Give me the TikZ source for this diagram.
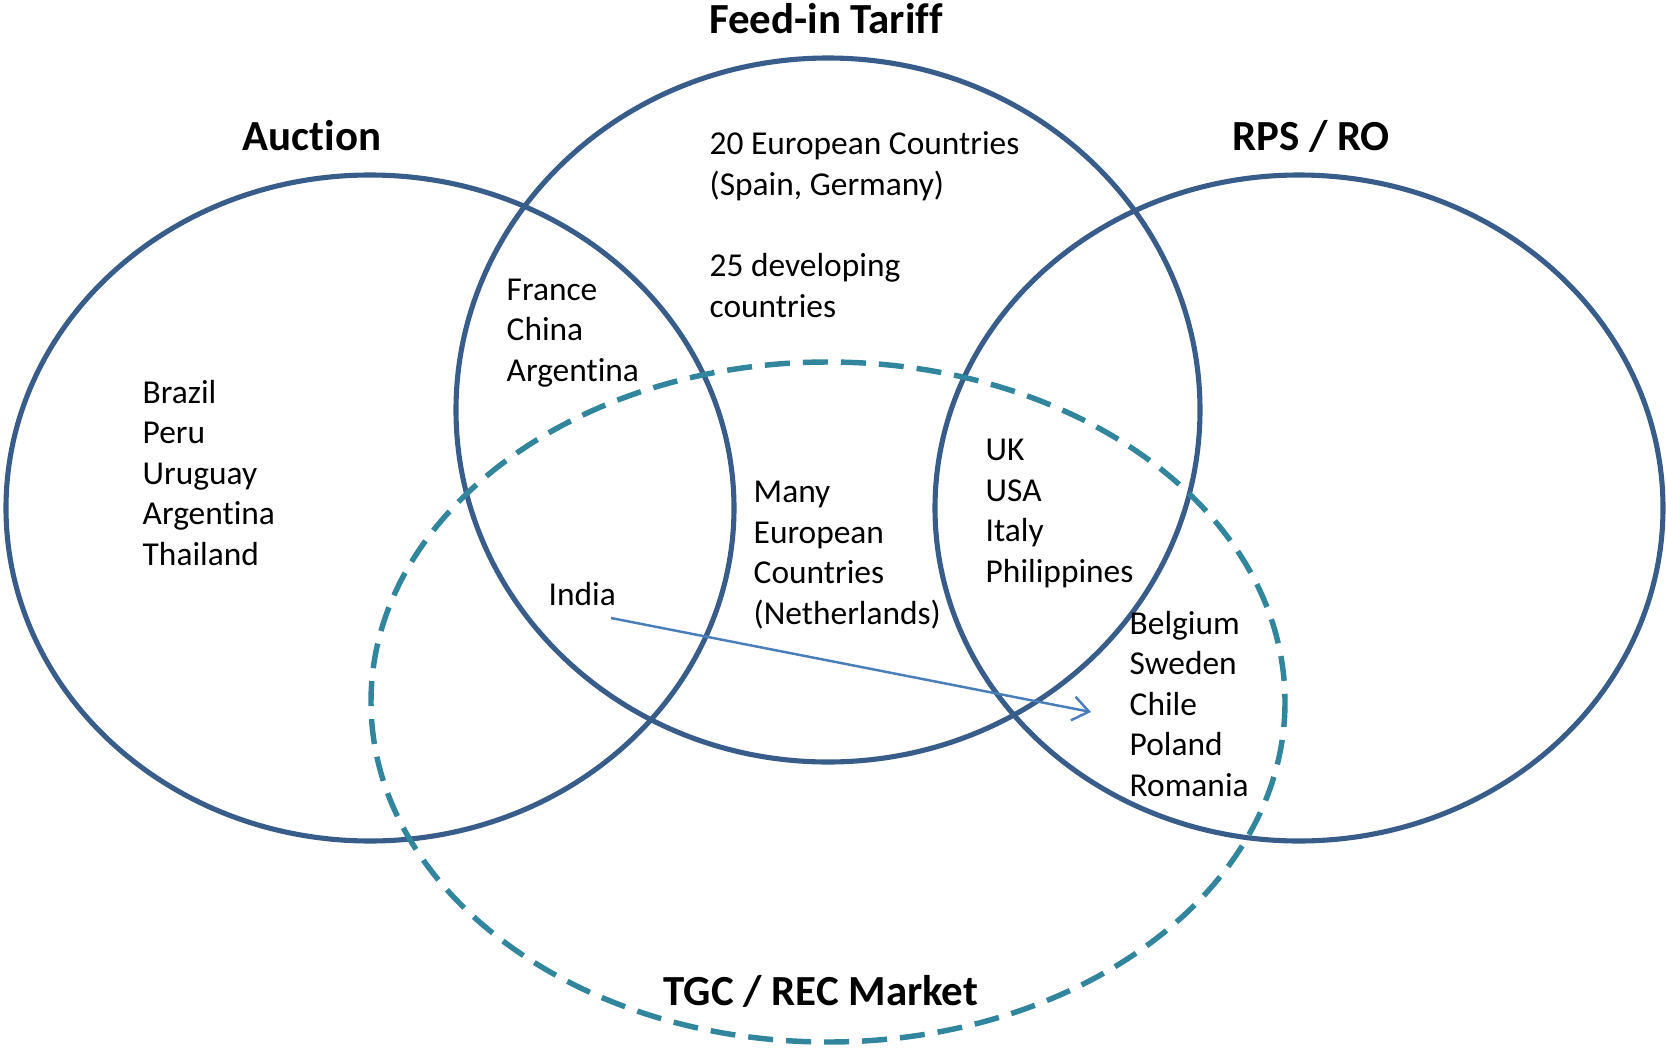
\documentclass[tikz,border=0pt]{standalone}
\usepackage{fontspec}
\setmainfont[Ligatures=CommonOff]{Carlito}
\usetikzlibrary{arrows.meta}
\definecolor{schemeblue}{RGB}{56,93,138}
\definecolor{marketteal}{RGB}{49,133,156}
\definecolor{arrowblue}{RGB}{74,126,187}

\begin{document}
\begin{tikzpicture}[x=0.01cm, y=-0.01cm,
    scheme/.style={draw=schemeblue, line width=1.45pt},
    market/.style={draw=marketteal, line width=1.55pt, dash pattern=on 0.25cm off 0.13cm},
    title/.style={font=\fontsize{12.2}{14}\selectfont\bfseries, anchor=base, inner sep=0pt},
    countries/.style={font=\fontsize{9.5}{11.5}\selectfont, align=left, anchor=base west, inner sep=0pt},
    transfer/.style={draw=arrowblue, line width=0.7pt, -{Straight Barb[length=0.16cm, width=0.24cm]}}]

    % page
    \useasboundingbox (0,0) rectangle (1666,1048);

    % centres
    \coordinate (auc) at (370,508);
    \coordinate (fit) at (828,410);
    \coordinate (rps) at (1299,508);
    \coordinate (tgc) at (828,702);

    % policy sets
    \draw[scheme] (auc) ellipse [x radius=364, y radius=333];
    \draw[scheme] (fit) ellipse [x radius=372, y radius=352];
    \draw[scheme] (rps) ellipse [x radius=364, y radius=333];
    \draw[market] (tgc) ellipse [x radius=457, y radius=340];

    % set names
    \node[title] (fitname) at (826,33) {Feed-in Tariff};
    \node[title] (aucname) at (312,150) {Auction};
    \node[title] (rpsname) at (1311,150) {RPS / RO};
    \node[title] (tgcname) at (821,1005) {TGC / REC Market};

    % members (placed at the baseline of the last line)
    \node[countries] (auconly) at (142,565) {Brazil\\Peru\\Uruguay\\Argentina\\Thailand};
    \node[countries] (aucfit) at (506,381) {France\\China\\Argentina};
    \node[countries] (fiteu) at (709,195) {20 European Countries\\(Spain, Germany)};
    \node[countries] (fitdev) at (709,317) {25 developing\\countries};
    \node[countries] (fittgc) at (753,624) {Many\\European\\Countries\\(Netherlands)};
    \node[countries] (fitrps) at (985,582) {UK\\USA\\Italy\\Philippines};
    \node[countries] (rpstgc) at (1129,796) {Belgium\\Sweden\\Chile\\Poland\\Romania};
    \node[countries] (india) at (548,605) {India};

    % India moves towards RPS + TGC
    \coordinate (indiastart) at (611,618);
    \coordinate (indiaend) at (1091,712);
    \draw[transfer] (indiastart) -- (indiaend);

\end{tikzpicture}
\end{document}
